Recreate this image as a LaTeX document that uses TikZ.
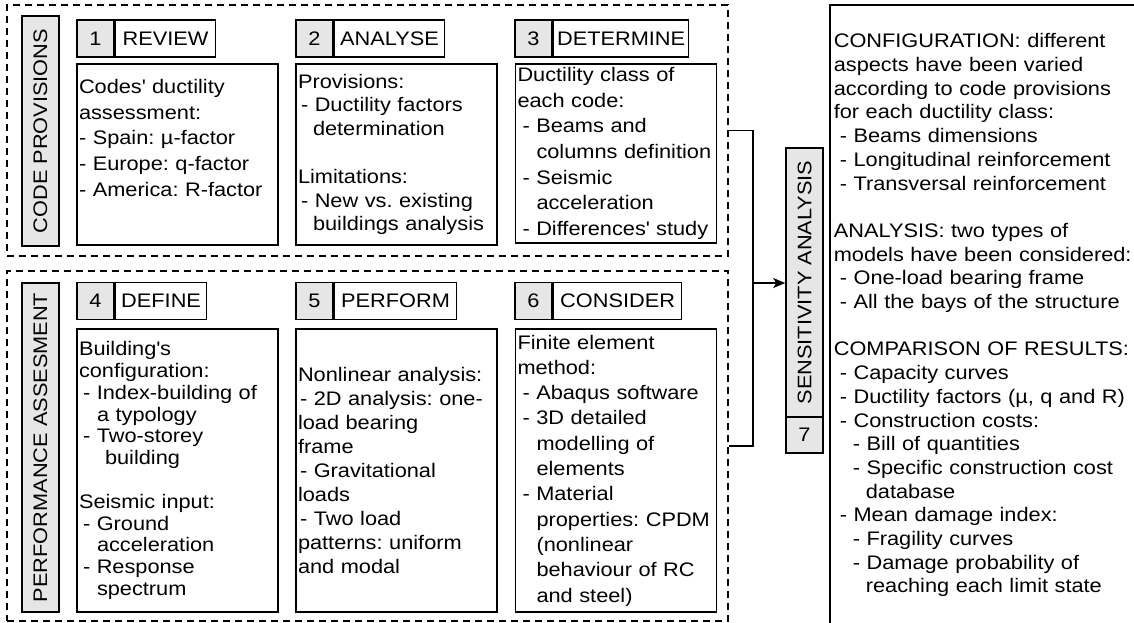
\documentclass[tikz,border=0pt]{standalone}
\usepackage{fontspec}
\setmainfont{Liberation Sans}[FakeStretch=1.11]
\usetikzlibrary{positioning,arrows.meta}

\definecolor{cellgray}{HTML}{E6E6E6}
\newcommand{\bodyfont}[1]{\fontsize{19.6}{#1}\selectfont\frenchspacing}
\newcommand{\apos}{\textquotesingle}

\tikzset{
  frame/.style={draw, dash pattern=on 7pt off 5pt, line width=1.6pt, minimum width=721, inner sep=0pt},
  cell/.style={draw, line width=1.6pt, inner sep=0pt, minimum height=37, font=\bodyfont{23.5}},
  numcell/.style={cell, fill=cellgray, minimum width=37},
  labelcell/.style={cell, fill=white},
  sidebox/.style={cell, fill=cellgray, rotate=90},
  bodybox/.style={draw, line width=1.6pt, minimum width=201, minimum height=#1, inner xsep=2pt, inner ysep=0pt, text width=197, align=left},
  arrow/.style={line width=1.6pt, -{Stealth[length=12pt, width=10pt, inset=3pt]}}
}

\begin{document}
\begin{tikzpicture}[x=1pt, y=-1pt]
\useasboundingbox (0,0) rectangle (1134,622);

% Dashed frames
\node[frame, minimum height=251] (codes) at (367.5,130.5) {};
\node[frame, minimum height=350] (perf) at (367.5,446) {};

% Side labels
\node[sidebox, minimum width=230] (codeslab) at (40.5,131) {CODE PROVISIONS};
\node[sidebox, minimum width=329] (perflab) at (40.5,447.5) {PERFORMANCE ASSESMENT};

% Headers
\node[numcell] (n1) at (95.5,38.5) {1};
\node[labelcell, minimum width=100, right=0pt of n1] (h1) {REVIEW};
\node[numcell] (n2) at (314.5,38.5) {2};
\node[labelcell, minimum width=110, right=0pt of n2] (h2) {ANALYSE};
\node[numcell] (n3) at (533.5,38.5) {3};
\node[labelcell, minimum width=135, right=0pt of n3] (h3) {DETERMINE};
\node[numcell] (n4) at (95.5,301) {4};
\node[labelcell, minimum width=91, right=0pt of n4] (h4) {DEFINE};
\node[numcell] (n5) at (314.5,301) {5};
\node[labelcell, minimum width=122, right=0pt of n5] (h5) {PERFORM};
\node[numcell] (n6) at (533.5,301) {6};
\node[labelcell, minimum width=128, right=0pt of n6] (h6) {CONSIDER};

% Bodies
\node[bodybox=181, font=\bodyfont{25.8}] (b1) at (177.5,154.5) {Codes\apos{} ductility\\ assessment:\\ - Spain: µ-factor\\ - Europe: q-factor\\ - America: R-factor\\ \strut};
\node[bodybox=181, font=\bodyfont{23.8}] (b2) at (396.5,154.5) {Provisions:\\ \hspace*{3pt}- Ductility factors\\ \hspace*{15pt}determination\\[23.8pt] Limitations:\\ \hspace*{3pt}- New vs. existing\\ \hspace*{15pt}buildings analysis};
\node[bodybox=179, font=\bodyfont{25.6}] (b3) at (616,153.5) {Ductility class of\\ each code:\\ \hspace*{5pt}- Beams and\\ \hspace*{19pt}columns definition\\ \hspace*{5pt}- Seismic\\ \hspace*{19pt}acceleration\\ \hspace*{5pt}- Differences\apos{} study};
\node[bodybox=283, font=\bodyfont{21.8}] (b4) at (177.5,470.5) {Building\apos{}s\\ configuration:\\ \hspace*{4pt}- Index-building of\\ \hspace*{18pt}a typology\\ \hspace*{4pt}- Two-storey\\ \hspace*{26pt}building\\[21.8pt] Seismic input:\\ \hspace*{4pt}- Ground\\ \hspace*{18pt}acceleration\\ \hspace*{4pt}- Response\\ \hspace*{18pt}spectrum};
\node[bodybox=283, font=\bodyfont{24}] (b5) at (396.5,470.5) {Nonlinear analysis:\\ \hspace*{2pt}- 2D analysis: one-\\ load bearing\\ frame\\ \hspace*{2pt}- Gravitational\\ loads\\ \hspace*{2pt}- Two load\\ patterns: uniform\\ and modal};
\node[bodybox=283, font=\bodyfont{25.3}] (b6) at (616,470.5) {Finite element\\ method:\\ \hspace*{5pt}- Abaqus software\\ \hspace*{5pt}- 3D detailed\\ \hspace*{19pt}modelling of\\ \hspace*{19pt}elements\\ \hspace*{5pt}- Material\\ \hspace*{19pt}properties: CPDM\\ \hspace*{19pt}(nonlinear\\ \hspace*{19pt}behaviour of RC\\ \hspace*{19pt}and steel)};

% Sensitivity analysis
\node[sidebox, minimum width=269] (sens) at (804.5,282.5) {SENSITIVITY ANALYSIS};
\node[numcell, minimum height=36] (n7) at (804.5,435) {7};
\node[bodybox=621, anchor=north west, minimum width=320, inner xsep=4pt, text width=312, font=\bodyfont{23.7}] (results) at (829,4) {CONFIGURATION: different\\ aspects have been varied\\ according to code provisions\\ for each ductility class:\\ \hspace*{6pt}- Beams dimensions\\ \hspace*{6pt}- Longitudinal reinforcement\\ \hspace*{6pt}- Transversal reinforcement\\[23.7pt] ANALYSIS: two types of\\ models have been considered:\\ \hspace*{6pt}- One-load bearing frame\\ \hspace*{6pt}- All the bays of the structure\\[23.7pt] COMPARISON OF RESULTS:\\ \hspace*{6pt}- Capacity curves\\ \hspace*{6pt}- Ductility factors (µ, q and R)\\ \hspace*{6pt}- Construction costs:\\ \hspace*{19pt}- Bill of quantities\\ \hspace*{19pt}- Specific construction cost\\ \hspace*{32pt}database\\ \hspace*{6pt}- Mean damage index:\\ \hspace*{19pt}- Fragility curves\\ \hspace*{19pt}- Damage probability of\\ \hspace*{32pt}reaching each limit state};

% Connectors
\coordinate (junc) at (753,283);
\draw[line width=1.6pt] (codes.east) -| (junc) |- (perf.east);
\draw[arrow] (junc) -- (junc -| sens.north);

\end{tikzpicture}
\end{document}
